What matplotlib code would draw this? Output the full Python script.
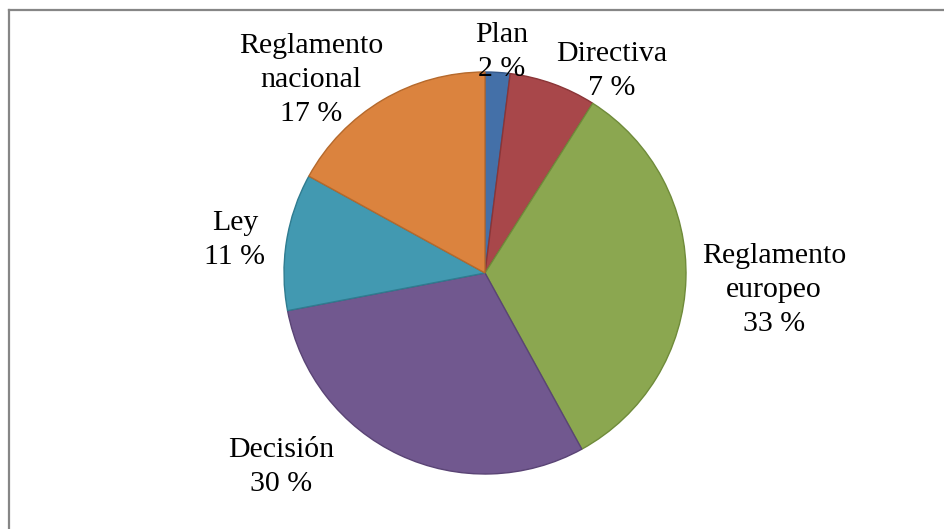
import matplotlib
matplotlib.use("Agg")
import matplotlib.pyplot as plt
from matplotlib.lines import Line2D

# share of each type of legal instrument
labels = ["Plan", "Directiva", "Reglamento\neuropeo", "Decisión", "Ley", "Reglamento\nnacional"]
shares = [2, 7, 33, 30, 11, 17]
colors = ["#4470A8", "#A8474A", "#8BA750", "#71588F", "#4299B1", "#DB833E"]
edges = ["#35598A", "#8A3537", "#6F8B3A", "#5A4475", "#2F7C90", "#B5692C"]

W, H = 945, 529
center = (485, H - 273)
radius = 201
# label centres in pixels (x from left, y from top)
label_pos = [(502, 52), (612, 71), (774, 290), (281, 467), (235, 240), (311, 80)]

fig = plt.figure(figsize=(W / 100, H / 100), dpi=100)
ax = fig.add_axes([0, 0, 1, 1])

wedges, _ = ax.pie(shares, colors=colors, startangle=90, counterclock=False,
                   center=center, radius=radius,
                   wedgeprops=dict(linewidth=1.0))
for w, ec in zip(wedges, edges):
    w.set_edgecolor(ec)

ax.set_xlim(0, W)
ax.set_ylim(0, H)
ax.set_axis_off()

for lab, val, (x, y) in zip(labels, shares, label_pos):
    ax.text(x, H - y, f"{lab}\n{val} %", ha="center", va="center",
            fontsize=21.5, family="Liberation Serif", linespacing=1.4,
            color="black")

# chart border (only the top and left edges fall inside the image)
fig.add_artist(Line2D([9 / W, 1], [1 - 10 / H, 1 - 10 / H], transform=fig.transFigure,
                      color="#868686", lw=1.6))
fig.add_artist(Line2D([9 / W, 9 / W], [0, 1 - 10 / H], transform=fig.transFigure,
                      color="#868686", lw=1.6))

fig.savefig("out.png", dpi=100)
